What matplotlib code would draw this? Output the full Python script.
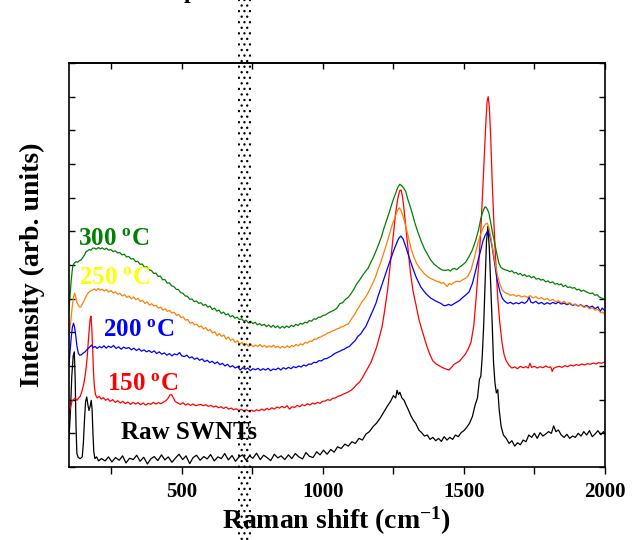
import numpy as np
import matplotlib
matplotlib.use("Agg")
import matplotlib.pyplot as plt
from matplotlib.patches import Rectangle
from matplotlib.ticker import MultipleLocator, NullFormatter

plt.rcParams["font.family"] = ["Liberation Serif", "DejaVu Serif"]
plt.rcParams["font.weight"] = "bold"
plt.rcParams["mathtext.fontset"] = "custom"
plt.rcParams["mathtext.rm"] = "Liberation Serif:bold"
plt.rcParams["mathtext.it"] = "Liberation Serif:bold"
plt.rcParams["mathtext.bf"] = "Liberation Serif:bold"
plt.rcParams["hatch.linewidth"] = 0.9

# (Raman shift cm-1, intensity arb.)
raw_pts = [
    (100, 0.85), (105, 1.6), (110, 2.7), (115, 3.3), (119, 3.42), (122, 2.6), (125, 1.2), (128, 0.40),
    (133, 0.28), (140, 0.25), (147, 0.30), (151, 0.7), (155, 1.4), (159, 1.95), (163, 2.08), (167, 1.85),
    (171, 1.68), (175, 1.80), (179, 1.98), (182, 1.70), (185, 1.0), (188, 0.45), (192, 0.25), (198, 0.30),
    (205, 0.18), (215, 0.25), (228, 0.18), (240, 0.30), (252, 0.15), (265, 0.28), (278, 0.20), (290, 0.33),
    (302, 0.12), (315, 0.26), (328, 0.22), (340, 0.35), (352, 0.17), (365, 0.29), (378, 0.09), (390, 0.24),
    (402, 0.31), (415, 0.19), (428, 0.36), (440, 0.21), (452, 0.30), (465, 0.14), (478, 0.27), (490, 0.38),
    (503, 0.22), (515, 0.33), (528, 0.10), (540, 0.28), (552, 0.35), (565, 0.20), (578, 0.31), (590, 0.24),
    (602, 0.37), (615, 0.18), (628, 0.30), (640, 0.25), (652, 0.40), (665, 0.21), (678, 0.34), (690, 0.17),
    (702, 0.29), (715, 0.36), (728, 0.20), (740, 0.33), (752, 0.26), (765, 0.41), (778, 0.22), (790, 0.35),
    (802, 0.28), (815, 0.19), (828, 0.38), (840, 0.27), (852, 0.33), (865, 0.22), (878, 0.36), (890, 0.25),
    (902, 0.40), (915, 0.30), (928, 0.24), (940, 0.43), (952, 0.32), (965, 0.28), (978, 0.45), (990, 0.36),
    (1002, 0.50), (1015, 0.38), (1028, 0.52), (1040, 0.44), (1052, 0.60), (1065, 0.55), (1078, 0.68),
    (1090, 0.62), (1103, 0.75), (1115, 0.70), (1128, 0.85), (1140, 0.80), (1153, 0.98), (1165, 1.05),
    (1178, 1.20), (1190, 1.30), (1203, 1.45), (1215, 1.62), (1228, 1.80), (1240, 1.95), (1250, 2.12),
    (1258, 2.05), (1263, 2.28), (1268, 2.15), (1273, 2.22), (1280, 2.05), (1288, 1.98), (1295, 1.84),
    (1303, 1.70), (1312, 1.52), (1320, 1.40), (1330, 1.28), (1340, 1.10), (1350, 1.02), (1360, 0.92),
    (1370, 0.95), (1380, 0.82), (1390, 0.88), (1400, 0.78), (1410, 0.85), (1420, 0.76), (1430, 0.90),
    (1440, 0.80), (1450, 0.88), (1460, 0.82), (1470, 0.95), (1480, 0.90), (1490, 1.02), (1500, 1.08),
    (1510, 1.18), (1520, 1.30), (1530, 1.50), (1540, 1.85), (1548, 2.05), (1555, 2.60), (1560, 2.70),
    (1565, 3.30), (1570, 4.20), (1575, 5.50), (1580, 6.70), (1585, 7.15), (1590, 6.50), (1596, 5.20),
    (1600, 4.30), (1605, 3.10), (1610, 2.50), (1615, 2.20), (1620, 2.30), (1625, 1.70), (1632, 1.20),
    (1640, 0.95), (1650, 0.85), (1660, 0.70), (1670, 0.78), (1680, 0.62), (1690, 0.72), (1700, 0.66),
    (1710, 0.80), (1720, 0.75), (1730, 0.95), (1740, 0.88), (1750, 1.00), (1760, 0.85), (1770, 1.02),
    (1780, 0.92), (1790, 0.98), (1800, 1.05), (1810, 1.00), (1818, 1.22), (1826, 1.05), (1835, 1.10),
    (1845, 0.95), (1855, 0.88), (1865, 0.97), (1875, 0.85), (1885, 0.92), (1895, 0.88), (1905, 1.00),
    (1915, 0.92), (1925, 1.05), (1935, 0.95), (1945, 1.08), (1955, 0.90), (1965, 0.98), (1975, 1.08),
    (1985, 0.96), (1995, 1.05), (2000, 1.00),
]

c150_pts = [
    (100, 1.60), (105, 1.75), (110, 1.95), (116, 2.00), (122, 2.05), (128, 1.98), (134, 2.05), (140, 2.10),
    (146, 2.25), (152, 2.45), (158, 2.75), (164, 3.20), (170, 3.90), (175, 4.40), (178, 4.48), (181, 4.10),
    (184, 3.50), (187, 2.80), (190, 2.40), (194, 2.15), (200, 2.05), (207, 2.10), (214, 2.02), (222, 2.06),
    (230, 1.98), (238, 2.03), (246, 1.95), (255, 2.00), (264, 1.92), (273, 1.97), (282, 1.90), (291, 1.95),
    (300, 1.88), (309, 1.93), (318, 1.86), (327, 1.92), (336, 1.87), (345, 1.91), (354, 1.85), (363, 1.90),
    (372, 1.84), (381, 1.89), (390, 1.86), (399, 1.92), (408, 1.87), (417, 1.91), (426, 1.88), (435, 1.93),
    (444, 1.97), (452, 2.05), (458, 2.14), (464, 2.15), (470, 2.05), (477, 1.94), (486, 1.90), (495, 1.86),
    (504, 1.91), (513, 1.84), (522, 1.88), (531, 1.83), (540, 1.87), (549, 1.82), (558, 1.84), (567, 1.86),
    (576, 1.82), (585, 1.85), (594, 1.80), (603, 1.83), (612, 1.78), (621, 1.81), (630, 1.76), (639, 1.79),
    (648, 1.74), (657, 1.78), (666, 1.72), (675, 1.75), (684, 1.70), (693, 1.73), (702, 1.68), (711, 1.71),
    (720, 1.67), (729, 1.70), (738, 1.66), (747, 1.69), (756, 1.65), (765, 1.70), (774, 1.67), (783, 1.72),
    (792, 1.68), (801, 1.74), (810, 1.70), (819, 1.76), (828, 1.72), (837, 1.78), (846, 1.75), (855, 1.80),
    (864, 1.76), (873, 1.82), (882, 1.72), (891, 1.79), (900, 1.77), (909, 1.83), (918, 1.79), (927, 1.85),
    (936, 1.82), (945, 1.88), (954, 1.84), (963, 1.90), (972, 1.87), (981, 1.92), (990, 1.89), (999, 1.95),
    (1008, 1.96), (1017, 2.00), (1026, 1.98), (1035, 2.04), (1044, 2.05), (1053, 2.10), (1062, 2.12),
    (1071, 2.16), (1080, 2.19), (1090, 2.23), (1100, 2.28), (1110, 2.35), (1120, 2.45), (1130, 2.52),
    (1140, 2.65), (1150, 2.80), (1160, 2.95), (1170, 3.10), (1180, 3.32), (1190, 3.55), (1200, 3.85),
    (1210, 4.17), (1220, 4.70), (1230, 5.30), (1240, 6.10), (1250, 6.90), (1258, 7.55), (1265, 7.95),
    (1272, 8.20), (1277, 8.23), (1282, 8.05), (1288, 7.63), (1295, 7.05), (1302, 6.45), (1310, 5.80),
    (1320, 5.20), (1330, 4.82), (1340, 4.40), (1350, 4.10), (1360, 3.82), (1370, 3.55), (1380, 3.33),
    (1390, 3.15), (1400, 3.07), (1410, 3.02), (1420, 2.97), (1430, 2.93), (1440, 2.90), (1447, 2.88),
    (1455, 2.95), (1465, 3.05), (1475, 3.10), (1485, 3.15), (1495, 3.25), (1505, 3.35), (1515, 3.50),
    (1525, 3.70), (1535, 4.20), (1545, 5.20), (1553, 6.10), (1560, 7.04), (1566, 8.10), (1571, 9.03),
    (1577, 10.10), (1582, 10.85), (1586, 11.00), (1590, 10.70), (1595, 9.80), (1600, 8.52), (1606, 7.30),
    (1613, 6.06), (1620, 5.00), (1627, 4.30), (1635, 3.70), (1642, 3.35), (1650, 3.15), (1660, 3.02),
    (1670, 2.94), (1680, 2.97), (1690, 2.92), (1700, 2.99), (1710, 2.95), (1720, 2.98), (1728, 2.94),
    (1734, 3.08), (1740, 2.96), (1750, 2.99), (1760, 2.94), (1770, 2.98), (1780, 2.95), (1790, 3.00),
    (1800, 2.96), (1808, 2.97), (1813, 2.84), (1818, 2.93), (1828, 2.97), (1838, 2.99), (1848, 2.96),
    (1858, 3.01), (1868, 2.98), (1878, 3.03), (1888, 3.00), (1898, 3.04), (1908, 3.02), (1918, 3.06),
    (1928, 3.03), (1938, 3.07), (1948, 3.05), (1958, 3.09), (1968, 3.06), (1978, 3.10), (1988, 3.08),
    (2000, 3.12),
]

c200_pts = [
    (100, 3.03), (104, 3.45), (108, 3.85), (112, 4.15), (116, 4.27), (120, 4.15), (124, 3.90), (128, 3.60),
    (133, 3.38), (138, 3.32), (143, 3.33), (150, 3.38), (157, 3.42), (163, 3.48), (168, 3.52), (174, 3.57),
    (180, 3.62), (186, 3.55), (193, 3.58), (200, 3.52), (208, 3.58), (216, 3.54), (224, 3.60), (232, 3.53),
    (240, 3.59), (249, 3.55), (258, 3.61), (267, 3.52), (276, 3.57), (285, 3.50), (294, 3.56), (303, 3.52),
    (312, 3.55), (321, 3.48), (330, 3.53), (339, 3.46), (348, 3.51), (357, 3.44), (366, 3.48), (375, 3.42),
    (384, 3.46), (393, 3.40), (402, 3.45), (411, 3.37), (420, 3.42), (429, 3.35), (438, 3.39), (447, 3.32),
    (456, 3.37), (465, 3.30), (474, 3.36), (483, 3.33), (492, 3.40), (500, 3.30), (509, 3.28), (518, 3.32),
    (527, 3.24), (536, 3.27), (545, 3.20), (554, 3.24), (563, 3.17), (572, 3.21), (581, 3.13), (590, 3.17),
    (599, 3.10), (608, 3.14), (617, 3.07), (626, 3.12), (635, 3.04), (644, 3.08), (653, 3.00), (662, 3.05),
    (671, 2.97), (680, 3.01), (689, 2.94), (698, 2.98), (707, 2.88), (716, 2.95), (725, 2.90), (734, 2.94),
    (743, 2.86), (752, 2.92), (761, 2.89), (770, 2.93), (779, 2.87), (788, 2.92), (797, 2.88), (806, 2.93),
    (815, 2.86), (824, 2.91), (833, 2.89), (842, 2.94), (851, 2.88), (860, 2.95), (869, 2.91), (878, 2.96),
    (887, 2.92), (896, 2.98), (905, 2.95), (914, 3.00), (923, 2.97), (932, 3.03), (941, 3.00), (950, 3.06),
    (959, 3.05), (968, 3.11), (977, 3.10), (986, 3.16), (995, 3.15), (1004, 3.21), (1013, 3.22), (1022, 3.26),
    (1031, 3.30), (1040, 3.36), (1049, 3.40), (1058, 3.43), (1067, 3.47), (1076, 3.50), (1085, 3.55),
    (1094, 3.58), (1104, 3.67), (1114, 3.75), (1124, 3.88), (1134, 3.95), (1144, 4.08), (1152, 4.17),
    (1160, 4.32), (1170, 4.50), (1180, 4.70), (1188, 4.86), (1196, 5.08), (1205, 5.30), (1214, 5.52),
    (1223, 5.75), (1232, 5.98), (1242, 6.22), (1252, 6.45), (1260, 6.62), (1268, 6.78), (1276, 6.86),
    (1284, 6.78), (1294, 6.54), (1305, 6.25), (1317, 5.95), (1330, 5.65), (1347, 5.35), (1365, 5.15),
    (1382, 5.02), (1400, 4.93), (1418, 4.86), (1428, 4.80), (1435, 4.79), (1445, 4.83), (1455, 4.80),
    (1465, 4.85), (1475, 4.90), (1485, 4.95), (1495, 5.03), (1505, 5.10), (1518, 5.20), (1530, 5.45),
    (1542, 5.85), (1552, 6.20), (1560, 6.45), (1567, 6.70), (1575, 6.88), (1582, 6.98), (1588, 6.99),
    (1594, 6.80), (1600, 6.54), (1608, 6.10), (1618, 5.55), (1628, 5.20), (1636, 5.01), (1645, 4.92),
    (1655, 4.86), (1665, 4.89), (1675, 4.84), (1685, 4.88), (1695, 4.85), (1705, 4.90), (1715, 4.86),
    (1725, 4.93), (1731, 5.05), (1737, 4.90), (1745, 4.87), (1755, 4.92), (1765, 4.85), (1775, 4.89),
    (1785, 4.83), (1795, 4.88), (1805, 4.84), (1815, 4.89), (1825, 4.85), (1835, 4.90), (1845, 4.84),
    (1855, 4.87), (1865, 4.82), (1875, 4.86), (1885, 4.80), (1895, 4.83), (1905, 4.78), (1915, 4.82),
    (1925, 4.76), (1935, 4.80), (1945, 4.74), (1955, 4.78), (1965, 4.70), (1975, 4.76), (1983, 4.62),
    (1990, 4.72), (2000, 4.64),
]

c250_pts = [
    (100, 3.87), (104, 4.15), (108, 4.45), (112, 4.80), (116, 5.05), (120, 5.16), (124, 5.05), (128, 4.90),
    (133, 4.80), (138, 4.75), (143, 4.76), (148, 4.85), (154, 4.95), (160, 5.06), (166, 5.15), (172, 5.20),
    (178, 5.24), (184, 5.26), (190, 5.29), (197, 5.24), (204, 5.30), (211, 5.25), (218, 5.28), (225, 5.23),
    (233, 5.27), (241, 5.20), (249, 5.24), (257, 5.17), (265, 5.20), (273, 5.13), (281, 5.16), (289, 5.08),
    (297, 5.12), (305, 5.04), (313, 5.08), (321, 5.00), (329, 5.05), (337, 4.97), (345, 5.01), (353, 4.92),
    (361, 4.95), (369, 4.86), (377, 4.90), (385, 4.81), (393, 4.85), (401, 4.78), (409, 4.80), (417, 4.72),
    (425, 4.75), (433, 4.66), (441, 4.70), (449, 4.62), (457, 4.65), (465, 4.57), (473, 4.60), (481, 4.50),
    (489, 4.53), (497, 4.44), (505, 4.46), (513, 4.36), (521, 4.38), (529, 4.27), (537, 4.30), (545, 4.22),
    (553, 4.24), (561, 4.16), (569, 4.19), (577, 4.10), (585, 4.14), (593, 4.05), (601, 4.08), (609, 3.98),
    (617, 4.02), (625, 3.90), (633, 3.97), (641, 3.88), (649, 3.92), (657, 3.80), (665, 3.86), (673, 3.76),
    (681, 3.80), (689, 3.70), (697, 3.75), (705, 3.65), (713, 3.70), (721, 3.60), (729, 3.66), (737, 3.58),
    (745, 3.64), (753, 3.57), (761, 3.62), (769, 3.58), (777, 3.64), (785, 3.57), (793, 3.61), (801, 3.55),
    (809, 3.60), (817, 3.56), (825, 3.62), (833, 3.55), (841, 3.59), (849, 3.53), (857, 3.58), (865, 3.54),
    (873, 3.60), (881, 3.55), (889, 3.61), (897, 3.58), (905, 3.64), (913, 3.60), (921, 3.66), (929, 3.63),
    (937, 3.70), (945, 3.68), (953, 3.74), (961, 3.73), (969, 3.80), (977, 3.79), (985, 3.85), (993, 3.86),
    (1001, 3.91), (1009, 3.93), (1017, 3.98), (1025, 4.00), (1033, 4.04), (1041, 4.06), (1049, 4.10),
    (1057, 4.12), (1065, 4.16), (1073, 4.18), (1081, 4.22), (1090, 4.25), (1098, 4.35), (1106, 4.46),
    (1114, 4.55), (1122, 4.68), (1130, 4.78), (1138, 4.90), (1146, 4.98), (1154, 5.08), (1163, 5.22),
    (1172, 5.38), (1180, 5.52), (1188, 5.68), (1196, 5.88), (1204, 6.05), (1213, 6.28), (1222, 6.52),
    (1230, 6.75), (1238, 6.98), (1246, 7.20), (1253, 7.36), (1260, 7.52), (1266, 7.64), (1271, 7.70),
    (1277, 7.62), (1283, 7.48), (1290, 7.28), (1298, 7.00), (1306, 6.72), (1314, 6.45), (1322, 6.25),
    (1332, 6.05), (1342, 5.92), (1352, 5.82), (1362, 5.72), (1372, 5.65), (1382, 5.60), (1392, 5.56),
    (1402, 5.52), (1412, 5.50), (1420, 5.45), (1428, 5.48), (1436, 5.40), (1441, 5.36), (1448, 5.45),
    (1455, 5.42), (1465, 5.48), (1475, 5.52), (1485, 5.50), (1495, 5.56), (1505, 5.60), (1515, 5.68),
    (1525, 5.85), (1535, 6.15), (1545, 6.50), (1553, 6.75), (1562, 6.98), (1570, 7.14), (1577, 7.22),
    (1583, 7.24), (1589, 7.10), (1595, 6.84), (1602, 6.50), (1608, 6.22), (1613, 5.95), (1620, 5.65),
    (1628, 5.42), (1636, 5.26), (1645, 5.18), (1655, 5.15), (1665, 5.10), (1675, 5.12), (1685, 5.07),
    (1695, 5.10), (1705, 5.05), (1715, 5.08), (1725, 5.04), (1735, 5.09), (1745, 5.02), (1755, 5.06),
    (1765, 5.00), (1775, 5.03), (1785, 4.97), (1795, 5.01), (1805, 4.94), (1815, 4.98), (1825, 4.91),
    (1835, 4.94), (1845, 4.88), (1855, 4.92), (1865, 4.85), (1875, 4.88), (1885, 4.82), (1895, 4.84),
    (1905, 4.78), (1915, 4.81), (1925, 4.74), (1935, 4.77), (1945, 4.70), (1955, 4.73), (1965, 4.66),
    (1975, 4.68), (1985, 4.58), (1993, 4.60), (2000, 4.52),
]

c300_pts = [
    (100, 4.66), (104, 5.10), (108, 5.55), (113, 5.95), (118, 6.05), (125, 6.10), (131, 6.08), (137, 6.13),
    (143, 6.15), (149, 6.22), (155, 6.30), (160, 6.39), (166, 6.42), (172, 6.46), (178, 6.44), (184, 6.50),
    (190, 6.50), (197, 6.47), (204, 6.52), (211, 6.48), (218, 6.51), (226, 6.46), (233, 6.50), (240, 6.44),
    (248, 6.46), (256, 6.40), (264, 6.42), (272, 6.36), (280, 6.37), (288, 6.30), (296, 6.32), (304, 6.24),
    (312, 6.25), (320, 6.18), (328, 6.19), (336, 6.10), (344, 6.11), (352, 6.02), (360, 6.03), (368, 5.93),
    (376, 5.95), (384, 5.85), (392, 5.84), (400, 5.75), (408, 5.76), (416, 5.66), (424, 5.67), (432, 5.56),
    (440, 5.57), (448, 5.46), (456, 5.47), (464, 5.38), (472, 5.36), (480, 5.28), (488, 5.27), (496, 5.18),
    (504, 5.16), (512, 5.08), (520, 5.07), (528, 4.98), (536, 4.99), (544, 4.91), (552, 4.93), (560, 4.86),
    (568, 4.88), (576, 4.80), (584, 4.83), (592, 4.75), (600, 4.78), (608, 4.68), (616, 4.72), (624, 4.63),
    (632, 4.66), (640, 4.56), (648, 4.60), (656, 4.52), (664, 4.55), (672, 4.46), (680, 4.50), (688, 4.42),
    (696, 4.45), (704, 4.38), (712, 4.40), (720, 4.33), (728, 4.36), (736, 4.28), (744, 4.33), (752, 4.26),
    (760, 4.30), (768, 4.22), (776, 4.26), (784, 4.20), (792, 4.24), (800, 4.17), (808, 4.22), (816, 4.15),
    (824, 4.21), (832, 4.14), (840, 4.19), (848, 4.12), (856, 4.18), (864, 4.13), (872, 4.19), (880, 4.14),
    (888, 4.21), (896, 4.17), (904, 4.24), (912, 4.20), (920, 4.27), (928, 4.24), (936, 4.30), (944, 4.28),
    (952, 4.35), (960, 4.33), (968, 4.40), (976, 4.39), (984, 4.45), (992, 4.45), (1000, 4.50), (1010, 4.52),
    (1020, 4.58), (1030, 4.62), (1040, 4.66), (1050, 4.72), (1060, 4.85), (1070, 4.88), (1080, 4.98),
    (1090, 5.04), (1100, 5.15), (1110, 5.28), (1120, 5.44), (1130, 5.55), (1140, 5.68), (1150, 5.80),
    (1160, 5.90), (1170, 6.08), (1180, 6.25), (1190, 6.45), (1199, 6.64), (1208, 6.85), (1216, 7.08),
    (1225, 7.30), (1234, 7.53), (1242, 7.75), (1250, 7.95), (1258, 8.13), (1265, 8.30), (1273, 8.40),
    (1280, 8.35), (1287, 8.28), (1294, 8.18), (1300, 7.98), (1308, 7.78), (1317, 7.53), (1325, 7.28),
    (1335, 7.02), (1347, 6.74), (1360, 6.48), (1372, 6.30), (1382, 6.15), (1395, 6.02), (1410, 5.92),
    (1423, 5.85), (1435, 5.84), (1445, 5.86), (1452, 5.82), (1459, 5.88), (1466, 5.90), (1475, 5.86),
    (1483, 5.93), (1495, 6.00), (1506, 6.08), (1518, 6.25), (1530, 6.45), (1542, 6.74), (1552, 7.05),
    (1560, 7.38), (1565, 7.53), (1570, 7.65), (1575, 7.73), (1580, 7.70), (1585, 7.62), (1589, 7.53),
    (1595, 7.25), (1601, 6.98), (1607, 6.74), (1615, 6.40), (1624, 6.05), (1632, 5.92), (1640, 5.88),
    (1648, 5.85), (1655, 5.84), (1662, 5.80), (1670, 5.83), (1678, 5.76), (1685, 5.78), (1692, 5.72),
    (1700, 5.75), (1708, 5.68), (1715, 5.72), (1722, 5.66), (1731, 5.68), (1740, 5.62), (1748, 5.66),
    (1756, 5.58), (1765, 5.60), (1773, 5.55), (1781, 5.57), (1790, 5.50), (1798, 5.53), (1806, 5.47),
    (1815, 5.50), (1823, 5.43), (1831, 5.45), (1837, 5.41), (1845, 5.44), (1852, 5.36), (1860, 5.40),
    (1868, 5.33), (1876, 5.35), (1884, 5.31), (1892, 5.33), (1900, 5.26), (1908, 5.28), (1916, 5.22),
    (1924, 5.25), (1932, 5.21), (1940, 5.18), (1948, 5.15), (1956, 5.17), (1964, 5.10), (1972, 5.12),
    (1980, 5.05), (1988, 5.02), (2000, 4.98),
]

series = [
    ("Raw SWNTs", raw_pts, "#000000", "#000000", (285, 1.01)),
    ("150 $^{o}$C", c150_pts, "#ff0000", "#ff0000", (236, 2.49)),
    ("200 $^{o}$C", c200_pts, "#0000ff", "#0000ff", (222, 4.07)),
    ("250 $^{o}$C", c250_pts, "#ff8000", "#ffff00", (136, 5.64)),
    ("300 $^{o}$C", c300_pts, "#008000", "#008000", (133, 6.80)),
]

fig = plt.figure(figsize=(6.41, 5.40), dpi=100)
ax = fig.add_axes([0.1076, 0.1352, 0.8362, 0.7481])

for label, pts, lc, tc, (tx, ty) in series:
    xs, ys = zip(*pts)
    ax.plot(xs, ys, color=lc, lw=0.9)
    ax.text(tx, ty, label, color=tc, fontsize=18, fontweight="bold",
            ha="left", va="center")

ax.set_xlim(100, 2000)
ax.set_ylim(0, 12)
ax.xaxis.set_major_locator(MultipleLocator(500))
ax.xaxis.set_minor_locator(MultipleLocator(250))
ax.yaxis.set_major_locator(MultipleLocator(1))
ax.yaxis.set_major_formatter(NullFormatter())
ax.tick_params(axis="x", which="both", direction="out", length=5, width=1, labelsize=15, pad=6)
ax.tick_params(axis="y", which="both", direction="in", length=4, width=1, left=True, right=True)
for lab in ax.get_xticklabels():
    lab.set_fontweight("bold")
top = ax.secondary_xaxis("top")
top.xaxis.set_major_locator(MultipleLocator(250))
top.tick_params(direction="in", length=4, width=1, labeltop=False)
for sp in ax.spines.values():
    sp.set_linewidth(1.2)
top.spines["top"].set_linewidth(1.2)

ax.set_xlabel("Raman shift (cm$^{-1}$)", fontsize=20, fontweight="bold", labelpad=2)
ax.set_ylabel("Intensity (arb. units)", fontsize=20, fontweight="bold", labelpad=14)

# dotted overlay band running through the whole figure
fig.patches.append(Rectangle((238 / 641, 0), 13 / 641, 1, transform=fig.transFigure,
                             fill=False, hatch="...", edgecolor="black", lw=0, zorder=5))
fig.text(190 / 641, 1.004, "p", fontsize=17, ha="center", va="baseline")

fig.savefig("out.png", dpi=100)
